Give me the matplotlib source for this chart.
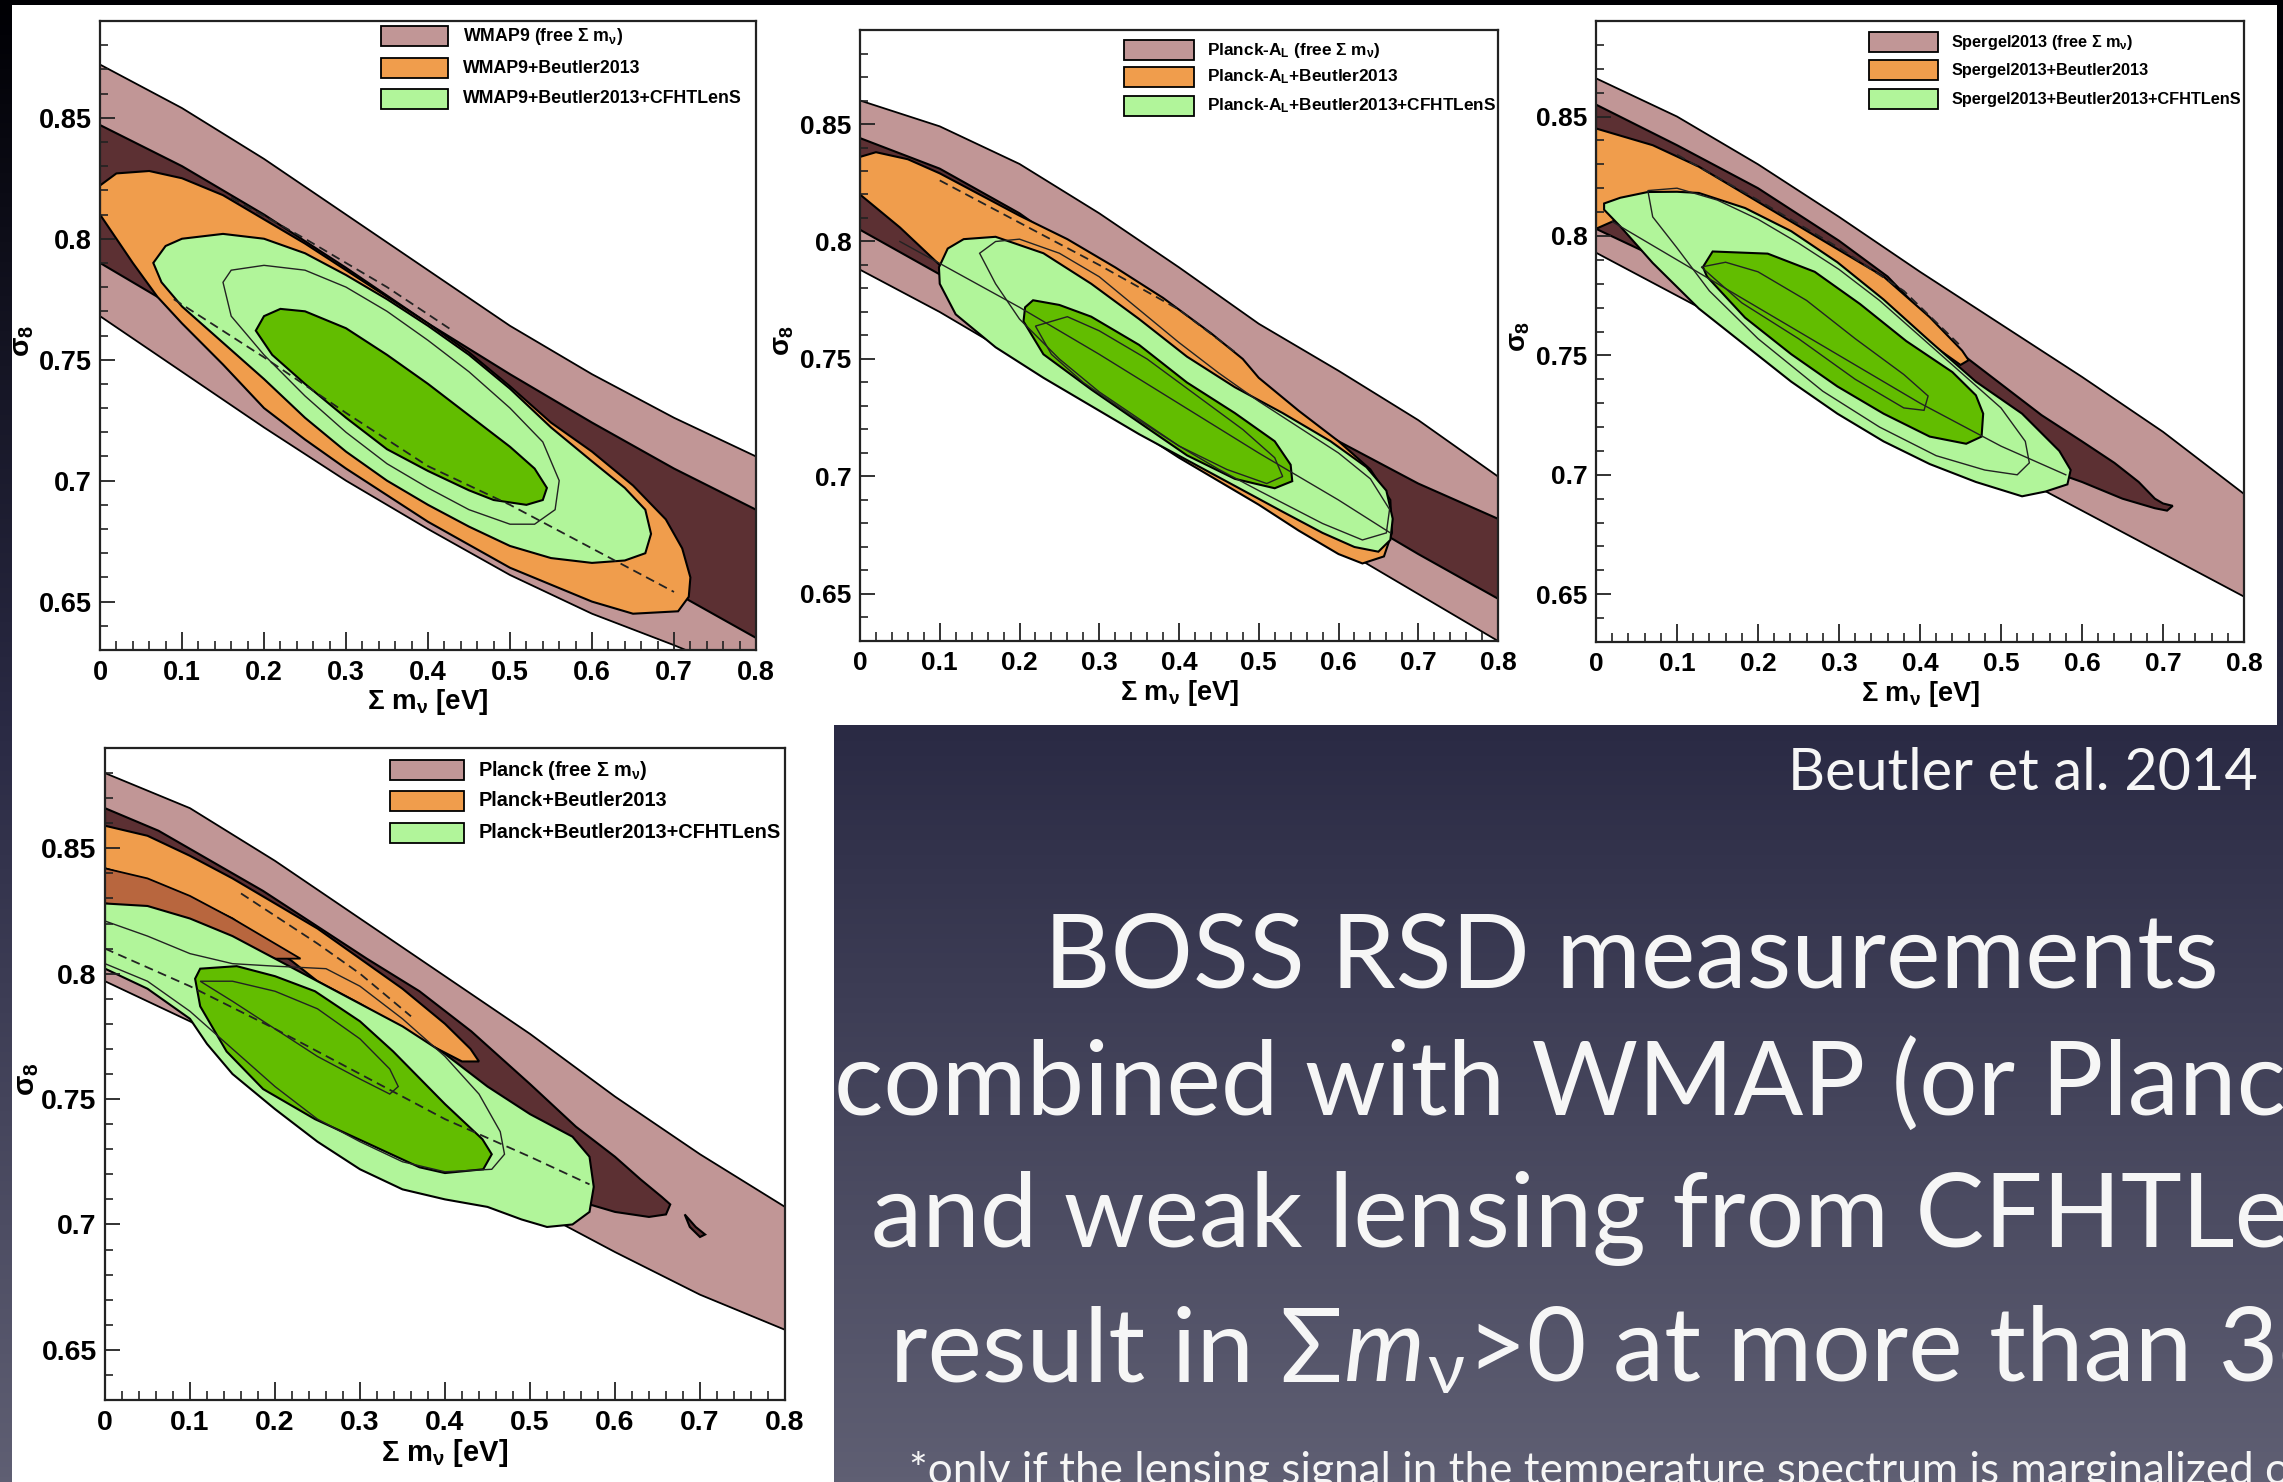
import numpy as np
import matplotlib
matplotlib.use('Agg')
import matplotlib.pyplot as plt
from matplotlib.patches import Rectangle
from matplotlib.ticker import MultipleLocator

plt.rcParams['font.family'] = 'Liberation Sans'
plt.rcParams['font.weight'] = 'bold'
plt.rcParams['axes.labelweight'] = 'bold'
plt.rcParams['mathtext.fontset'] = 'custom'
plt.rcParams['mathtext.rm'] = 'Liberation Sans:bold'
plt.rcParams['mathtext.it'] = 'Liberation Sans:bold'
plt.rcParams['mathtext.bf'] = 'Liberation Sans:bold'

# axes values
X_TICKS = [0, 0.1, 0.2, 0.3, 0.4, 0.5, 0.6, 0.7, 0.8]
X_TICK_LABELS = ['0', '0.1', '0.2', '0.3', '0.4', '0.5', '0.6', '0.7', '0.8']
Y_TICKS = [0.65, 0.7, 0.75, 0.8, 0.85]
Y_TICK_LABELS = ['0.65', '0.7', '0.75', '0.8', '0.85']
XLABEL = 'Σ m$_\\nu$ [eV]'
YLABEL = '$\\sigma_8$'
BAND_X = [0, 0.1, 0.2, 0.3, 0.4, 0.5, 0.6, 0.7, 0.8]

# ---- WMAP9 panel ----
WMAP_LEGEND = ['WMAP9 (free Σ m$_\\nu$)', 'WMAP9+Beutler2013', 'WMAP9+Beutler2013+CFHTLenS']
WMAP_PINK_HI = [0.872, 0.854, 0.833, 0.810, 0.787, 0.764, 0.744, 0.726, 0.710]
WMAP_PINK_LO = [0.768, 0.745, 0.722, 0.700, 0.680, 0.661, 0.645, 0.632, 0.618]
WMAP_DARK_HI = [0.847, 0.830, 0.810, 0.788, 0.765, 0.744, 0.724, 0.705, 0.688]
WMAP_DARK_LO = [0.790, 0.770, 0.751, 0.731, 0.712, 0.692, 0.672, 0.654, 0.635]
WMAP_ORANGE = [(0, 0.822), (0.02, 0.827), (0.06, 0.828), (0.1, 0.825), (0.15, 0.818), (0.2, 0.808),
               (0.25, 0.798), (0.3, 0.787), (0.35, 0.776), (0.4, 0.765), (0.45, 0.753), (0.5, 0.739),
               (0.55, 0.724), (0.6, 0.712), (0.65, 0.698), (0.69, 0.684), (0.71, 0.672), (0.72, 0.660),
               (0.718, 0.652), (0.705, 0.646), (0.65, 0.645), (0.6, 0.650), (0.5, 0.664), (0.4, 0.683),
               (0.3, 0.705), (0.25, 0.717), (0.2, 0.730), (0.15, 0.748), (0.1, 0.765), (0.07, 0.776),
               (0.04, 0.790), (0.02, 0.800), (0, 0.810)]
WMAP_LGREEN = [(0.065, 0.790), (0.08, 0.797), (0.1, 0.800), (0.15, 0.802), (0.2, 0.800), (0.25, 0.794),
               (0.3, 0.785), (0.35, 0.775), (0.4, 0.764), (0.45, 0.752), (0.5, 0.738), (0.55, 0.722),
               (0.6, 0.708), (0.64, 0.697), (0.665, 0.688), (0.672, 0.678), (0.665, 0.670), (0.64, 0.667),
               (0.6, 0.666), (0.55, 0.668), (0.5, 0.673), (0.45, 0.681), (0.4, 0.690), (0.35, 0.700),
               (0.3, 0.712), (0.25, 0.726), (0.2, 0.742), (0.15, 0.757), (0.1, 0.772), (0.075, 0.782)]
WMAP_DGREEN = [(0.19, 0.762), (0.2, 0.768), (0.22, 0.771), (0.25, 0.770), (0.3, 0.763), (0.35, 0.752),
               (0.4, 0.740), (0.45, 0.727), (0.5, 0.714), (0.53, 0.705), (0.545, 0.697), (0.54, 0.692),
               (0.52, 0.690), (0.48, 0.692), (0.45, 0.696), (0.4, 0.704), (0.35, 0.713), (0.3, 0.726),
               (0.25, 0.740), (0.21, 0.752)]
WMAP_THIN = [[(0.15, 0.782), (0.16, 0.787), (0.2, 0.789), (0.25, 0.787), (0.3, 0.780), (0.35, 0.770),
              (0.4, 0.758), (0.45, 0.745), (0.5, 0.730), (0.54, 0.716), (0.56, 0.700), (0.555, 0.688),
              (0.53, 0.682), (0.5, 0.682), (0.45, 0.688), (0.4, 0.697), (0.35, 0.707), (0.3, 0.720),
              (0.25, 0.735), (0.2, 0.752), (0.16, 0.768)]]
WMAP_DASHED = [[(0.16, 0.817), (0.25, 0.800), (0.35, 0.780), (0.43, 0.762)],
               [(0.09, 0.775), (0.2, 0.751), (0.3, 0.728), (0.4, 0.706), (0.5, 0.690), (0.6, 0.672),
                (0.7, 0.654)]]

# ---- Planck-A_L panel ----
PAL_LEGEND = ['Planck-A$_L$ (free Σ m$_\\nu$)', 'Planck-A$_L$+Beutler2013',
              'Planck-A$_L$+Beutler2013+CFHTLenS']
PAL_PINK_HI = [0.860, 0.849, 0.833, 0.812, 0.789, 0.765, 0.745, 0.724, 0.700]
PAL_PINK_LO = [0.788, 0.770, 0.750, 0.730, 0.710, 0.690, 0.670, 0.650, 0.630]
PAL_DARK_HI = [0.844, 0.831, 0.812, 0.788, 0.760, 0.735, 0.715, 0.697, 0.682]
PAL_DARK_LO = [0.805, 0.786, 0.766, 0.746, 0.726, 0.706, 0.687, 0.667, 0.648]
PAL_ORANGE = [(0, 0.836), (0.02, 0.838), (0.06, 0.835), (0.1, 0.829), (0.15, 0.820), (0.2, 0.811),
              (0.26, 0.801), (0.32, 0.789), (0.38, 0.776), (0.44, 0.761), (0.48, 0.750), (0.5, 0.742),
              (0.55, 0.728), (0.6, 0.715), (0.64, 0.703), (0.665, 0.690), (0.667, 0.676), (0.657, 0.666),
              (0.63, 0.663), (0.6, 0.667), (0.55, 0.677), (0.5, 0.688), (0.4, 0.708), (0.3, 0.730),
              (0.2, 0.755), (0.1, 0.790), (0.05, 0.806), (0, 0.820)]
PAL_LGREEN = [(0.099, 0.789), (0.11, 0.797), (0.13, 0.801), (0.17, 0.802), (0.23, 0.795), (0.29, 0.782),
              (0.35, 0.767), (0.41, 0.751), (0.47, 0.738), (0.53, 0.727), (0.59, 0.715), (0.635, 0.704),
              (0.66, 0.694), (0.668, 0.682), (0.665, 0.673), (0.65, 0.668), (0.62, 0.670), (0.58, 0.676),
              (0.53, 0.685), (0.47, 0.696), (0.41, 0.707), (0.35, 0.718), (0.29, 0.730), (0.23, 0.742),
              (0.17, 0.755), (0.12, 0.769), (0.10, 0.782)]
PAL_DGREEN = [(0.205, 0.766), (0.207, 0.772), (0.217, 0.775), (0.25, 0.773), (0.29, 0.768), (0.35, 0.756),
              (0.41, 0.740), (0.47, 0.727), (0.52, 0.715), (0.54, 0.705), (0.542, 0.698), (0.52, 0.695),
              (0.47, 0.699), (0.41, 0.709), (0.35, 0.723), (0.29, 0.737), (0.23, 0.752)]
PAL_THIN = [[(0.15, 0.795), (0.17, 0.800), (0.2, 0.801), (0.25, 0.795), (0.3, 0.785), (0.35, 0.771),
             (0.4, 0.757), (0.45, 0.744), (0.5, 0.732), (0.55, 0.721), (0.6, 0.710), (0.64, 0.699),
             (0.664, 0.686), (0.66, 0.676), (0.63, 0.673), (0.58, 0.680), (0.5, 0.694), (0.45, 0.703),
             (0.4, 0.713), (0.3, 0.736), (0.25, 0.750), (0.2, 0.767), (0.17, 0.782)],
            [(0.22, 0.764), (0.26, 0.768), (0.3, 0.762), (0.36, 0.750), (0.42, 0.735), (0.48, 0.720),
             (0.52, 0.708), (0.53, 0.700), (0.51, 0.697), (0.46, 0.703), (0.4, 0.713), (0.34, 0.726),
             (0.28, 0.740), (0.24, 0.752)]]
PAL_LINES = [[(0.05, 0.800), (0.2, 0.772), (0.3, 0.752), (0.4, 0.731), (0.5, 0.710), (0.6, 0.690),
              (0.665, 0.676)]]
PAL_DASHED = [[(0.1, 0.826), (0.2, 0.808), (0.3, 0.790), (0.4, 0.771), (0.47, 0.753)]]

# ---- Spergel2013 panel ----
SPG_LEGEND = ['Spergel2013 (free Σ m$_\\nu$)', 'Spergel2013+Beutler2013',
              'Spergel2013+Beutler2013+CFHTLenS']
SPG_PINK_HI = [0.866, 0.850, 0.830, 0.808, 0.785, 0.763, 0.741, 0.718, 0.692]
SPG_PINK_LO = [0.793, 0.775, 0.757, 0.739, 0.721, 0.703, 0.685, 0.667, 0.649]
SPG_DARK = [(0, 0.855), (0.1, 0.838), (0.2, 0.820), (0.3, 0.798), (0.36, 0.783), (0.42, 0.762),
            (0.45, 0.751), (0.5, 0.738), (0.55, 0.725), (0.6, 0.714), (0.64, 0.705), (0.67, 0.697),
            (0.69, 0.690), (0.70, 0.688), (0.712, 0.687), (0.705, 0.685), (0.69, 0.686), (0.65, 0.690),
            (0.6, 0.697), (0.55, 0.703), (0.5, 0.711), (0.4, 0.728), (0.3, 0.748), (0.2, 0.768),
            (0.1, 0.787), (0, 0.803)]
SPG_ORANGE = [(0, 0.845), (0.07, 0.838), (0.127, 0.829), (0.184, 0.8175), (0.241, 0.806), (0.298, 0.7945),
              (0.355, 0.783), (0.412, 0.766), (0.452, 0.752), (0.46, 0.748), (0.45, 0.746), (0.4, 0.758),
              (0.35, 0.770), (0.3, 0.783), (0.25, 0.795), (0.2, 0.805), (0.14, 0.813), (0.09, 0.817),
              (0.05, 0.812), (0.02, 0.806), (0, 0.803)]
SPG_LGREEN = [(0.01, 0.8136), (0.03, 0.816), (0.064, 0.8184), (0.1, 0.8185), (0.127, 0.818), (0.184, 0.8117),
              (0.241, 0.802), (0.298, 0.789), (0.355, 0.7734), (0.412, 0.756), (0.469, 0.739),
              (0.526, 0.7256), (0.572, 0.710), (0.586, 0.702), (0.582, 0.696), (0.555, 0.693),
              (0.526, 0.691), (0.469, 0.697), (0.412, 0.7045), (0.355, 0.714), (0.298, 0.7256),
              (0.241, 0.739), (0.184, 0.7543), (0.127, 0.7696), (0.07, 0.7887), (0.03, 0.804), (0.01, 0.811)]
SPG_DGREEN = [(0.132, 0.787), (0.144, 0.7935), (0.212, 0.7926), (0.27, 0.785), (0.326, 0.7715),
              (0.383, 0.756), (0.44, 0.743), (0.469, 0.7333), (0.478, 0.7256), (0.476, 0.716),
              (0.457, 0.713), (0.412, 0.716), (0.355, 0.7256), (0.298, 0.737), (0.241, 0.7505),
              (0.184, 0.7658), (0.137, 0.783)]
SPG_THIN = [[(0.064, 0.819), (0.1, 0.820), (0.15, 0.815), (0.2, 0.807), (0.25, 0.797), (0.3, 0.786),
             (0.35, 0.773), (0.4, 0.758), (0.45, 0.743), (0.5, 0.728), (0.53, 0.714), (0.535, 0.705),
             (0.52, 0.700), (0.48, 0.702), (0.42, 0.708), (0.35, 0.720), (0.28, 0.735), (0.2, 0.757),
             (0.14, 0.777), (0.1, 0.795), (0.07, 0.808)],
            [(0.13, 0.787), (0.16, 0.789), (0.2, 0.785), (0.26, 0.773), (0.32, 0.757), (0.38, 0.742),
             (0.41, 0.733), (0.405, 0.727), (0.38, 0.728), (0.32, 0.740), (0.25, 0.757), (0.18, 0.772)]]
SPG_LINES = [[(0.02, 0.806), (0.1, 0.790), (0.2, 0.770), (0.3, 0.750), (0.4, 0.730), (0.5, 0.712),
              (0.58, 0.700)]]
SPG_DASHED = [[(0.1, 0.834), (0.2, 0.815), (0.3, 0.795), (0.38, 0.777), (0.45, 0.754)]]

# ---- Planck panel ----
PLK_LEGEND = ['Planck (free Σ m$_\\nu$)', 'Planck+Beutler2013', 'Planck+Beutler2013+CFHTLenS']
PLK_PINK_HI = [0.880, 0.866, 0.845, 0.822, 0.799, 0.776, 0.751, 0.728, 0.707]
PLK_PINK_LO = [0.797, 0.781, 0.763, 0.745, 0.726, 0.707, 0.689, 0.672, 0.658]
PLK_DARK = [(0, 0.866), (0.063, 0.857), (0.186, 0.833), (0.308, 0.806), (0.37, 0.793), (0.431, 0.777),
            (0.5, 0.756), (0.554, 0.739), (0.6, 0.727), (0.63, 0.718), (0.655, 0.711), (0.665, 0.708),
            (0.66, 0.704), (0.64, 0.703), (0.6, 0.705), (0.55, 0.710), (0.5, 0.716), (0.45, 0.724),
            (0.4, 0.733), (0.3, 0.752), (0.2, 0.770), (0.1, 0.788), (0, 0.805)]
PLK_DARK_BLOB = [(0.682, 0.704), (0.695, 0.699), (0.706, 0.696), (0.700, 0.695), (0.688, 0.699)]
PLK_ORANGE = [(0, 0.859), (0.05, 0.855), (0.1, 0.847), (0.15, 0.838), (0.2, 0.828), (0.25, 0.818),
              (0.3, 0.806), (0.35, 0.794), (0.4, 0.780), (0.43, 0.770), (0.44, 0.765), (0.42, 0.765),
              (0.38, 0.772), (0.3, 0.788), (0.25, 0.797), (0.22, 0.805), (0.15, 0.822), (0.1, 0.830),
              (0.05, 0.837), (0, 0.842)]
PLK_SIENNA = [(0, 0.842), (0.05, 0.838), (0.1, 0.831), (0.15, 0.822), (0.2, 0.812), (0.23, 0.806),
              (0.2, 0.806), (0.15, 0.814), (0.1, 0.821), (0.05, 0.826), (0, 0.828)]
PLK_LGREEN = [(0, 0.828), (0.05, 0.827), (0.1, 0.822), (0.15, 0.815), (0.2, 0.806), (0.25, 0.797),
              (0.3, 0.788), (0.35, 0.779), (0.4, 0.768), (0.45, 0.755), (0.5, 0.744), (0.55, 0.735),
              (0.57, 0.727), (0.575, 0.715), (0.57, 0.705), (0.55, 0.700), (0.52, 0.699), (0.49, 0.702),
              (0.45, 0.707), (0.4, 0.710), (0.35, 0.714), (0.3, 0.722), (0.25, 0.733), (0.2, 0.746),
              (0.15, 0.760), (0.12, 0.772), (0.1, 0.782), (0.05, 0.794), (0, 0.802)]
PLK_DGREEN = [(0.106, 0.798), (0.112, 0.802), (0.155, 0.803), (0.2, 0.799), (0.247, 0.793), (0.3, 0.781),
              (0.339, 0.769), (0.4, 0.748), (0.444, 0.734), (0.455, 0.728), (0.445, 0.722), (0.4, 0.7205),
              (0.37, 0.7228), (0.308, 0.7325), (0.247, 0.742), (0.186, 0.754), (0.143, 0.769),
              (0.112, 0.787)]
PLK_THIN = [[(0, 0.821), (0.05, 0.815), (0.1, 0.808), (0.15, 0.804), (0.2, 0.803), (0.26, 0.802),
             (0.3, 0.795), (0.35, 0.782), (0.4, 0.767), (0.44, 0.752), (0.465, 0.737), (0.47, 0.728),
             (0.455, 0.722), (0.4, 0.721), (0.35, 0.725), (0.3, 0.733), (0.25, 0.742), (0.2, 0.755),
             (0.15, 0.770), (0.1, 0.785), (0.05, 0.797), (0, 0.804)],
            [(0.112, 0.797), (0.15, 0.797), (0.2, 0.793), (0.25, 0.786), (0.3, 0.774), (0.335, 0.762),
             (0.345, 0.755), (0.335, 0.752), (0.3, 0.758), (0.25, 0.767), (0.2, 0.778), (0.15, 0.789)]]
PLK_DASHED = [[(0, 0.810), (0.1, 0.795), (0.2, 0.778), (0.3, 0.760), (0.4, 0.742), (0.5, 0.727),
               (0.57, 0.716)],
              [(0.16, 0.832), (0.25, 0.812), (0.3, 0.800), (0.36, 0.783)]]

# slide text
SLIDE_CREDIT = 'Beutler et al. 2014'
SLIDE_LINES = ['BOSS RSD measurements', 'combined with WMAP (or Planck*)', 'and weak lensing from CFHTLenS']
SLIDE_LAST = ['result in Σ', 'm', 'ν', '>0 at more than 3σ']
SLIDE_NOTE = '*only if the lensing signal in the temperature spectrum is marginalized over'

PINK, DARK, ORANGE = '#c19696', '#5c3033', '#f09d4c'
SIENNA, LGREEN, DGREEN = '#b8663e', '#b1f59a', '#62bd00'

W, H = 2283, 1482
fig = plt.figure(figsize=(W / 100, H / 100), dpi=100)

# slide background
bg = fig.add_axes([0, 0, 1, 1], zorder=0)
bg.set_xlim(0, W)
bg.set_ylim(H, 0)
bg.axis('off')
t = np.linspace(0, 1, 300)
stops = [0, 0.49, 1]
grad = np.stack([np.interp(t, stops, [0, 42, 95]), np.interp(t, stops, [0, 42, 95]),
                 np.interp(t, stops, [4, 68, 115])], axis=1) / 255
bg.imshow(np.repeat(grad[:, None, :], 2, axis=1), extent=(0, W, H, 0), aspect='auto')
bg.add_patch(Rectangle((12, 5), 2265, 720, fc='white', ec='none'))
bg.add_patch(Rectangle((12, 725), 822, 760, fc='white', ec='none'))


def poly(ax, pts, **kw):
    xs, ys = zip(*pts)
    ax.fill(xs, ys, **kw)


def draw_panel(rect, p):
    ax = fig.add_axes([rect[0] / W, 1 - rect[3] / H, (rect[2] - rect[0]) / W, (rect[3] - rect[1]) / H],
                      zorder=2)
    axw, axh = rect[2] - rect[0], rect[3] - rect[1]
    ax.fill_between(BAND_X, p['pink'][1], p['pink'][0], color=PINK, lw=0, zorder=1)
    for edge in p['pink']:
        ax.plot(BAND_X, edge, color='k', lw=1.3, zorder=1.1)
    if 'dark_band' in p:
        ax.fill_between(BAND_X, p['dark_band'][1], p['dark_band'][0], color=DARK, lw=0, zorder=1.2)
        for edge in p['dark_band']:
            ax.plot(BAND_X, edge, color='k', lw=1.5, zorder=1.3)
    for pts in p.get('dark', []):
        poly(ax, pts, fc=DARK, ec='k', lw=1.5, zorder=1.3)
    poly(ax, p['orange'], fc=ORANGE, ec='k', lw=1.5, zorder=1.4)
    if 'sienna' in p:
        poly(ax, p['sienna'], fc=SIENNA, ec='k', lw=1.3, zorder=1.45)
    poly(ax, p['lgreen'], fc=LGREEN, ec='k', lw=1.5, zorder=1.5)
    poly(ax, p['dgreen'], fc=DGREEN, ec='k', lw=1.5, zorder=1.6)
    for pts in p['thin']:
        poly(ax, pts, fill=False, ec='#222222', lw=1.0, zorder=1.7)
    for pts in p.get('lines', []):
        xs, ys = zip(*pts)
        ax.plot(xs, ys, color='#222222', lw=1.0, zorder=1.7)
    for pts in p['dashed']:
        xs, ys = zip(*pts)
        ax.plot(xs, ys, color='#222222', lw=1.3, ls=(0, (5, 3)), zorder=1.8)

    ax.set_xlim(0, 0.8)
    ax.set_ylim(0.63, 0.89)
    ax.set_axisbelow(False)
    ax.set_xticks(X_TICKS, X_TICK_LABELS)
    ax.set_yticks(Y_TICKS, Y_TICK_LABELS)
    ax.xaxis.set_minor_locator(MultipleLocator(0.02))
    ax.yaxis.set_minor_locator(MultipleLocator(0.01))
    fs = p['fs']
    ax.tick_params(axis='x', which='major', direction='in', length=13, width=1.3, pad=7,
                   labelsize=fs, color='#222222')
    ax.tick_params(axis='x', which='minor', direction='in', length=6.5, width=1.2, color='#222222')
    ax.tick_params(axis='y', which='major', direction='in', length=11, width=1.3, pad=6,
                   labelsize=fs, color='#222222')
    ax.tick_params(axis='y', which='minor', direction='in', length=6, width=1.2, color='#222222')
    for s in ax.spines.values():
        s.set_linewidth(1.6)
        s.set_color('#222222')
        s.set_zorder(3)
    ax.set_xlabel(XLABEL, fontsize=fs + 0.5, fontweight='bold')
    ax.xaxis.set_label_coords(0.5, -37 / axh)
    ax.set_ylabel(YLABEL, fontsize=fs + 1, fontweight='bold')
    ax.yaxis.set_label_coords(-64 / axw, 0.492)

    bx0, bx1, tx, rows, lfs = p['legend_pos']
    bh = 20 / axh
    for label, color, y in zip(p['legend'], [PINK, ORANGE, LGREEN], rows):
        ax.add_patch(Rectangle((bx0, y - bh / 2), bx1 - bx0, bh, transform=ax.transAxes,
                               fc=color, ec='k', lw=1.3, clip_on=False, zorder=4))
        ax.text(tx, y, label, transform=ax.transAxes, fontsize=lfs, va='center', ha='left', zorder=4)
    return ax


panels = [
    ((100, 21, 756, 650), dict(pink=(WMAP_PINK_HI, WMAP_PINK_LO), dark_band=(WMAP_DARK_HI, WMAP_DARK_LO),
                               orange=WMAP_ORANGE, lgreen=WMAP_LGREEN, dgreen=WMAP_DGREEN, thin=WMAP_THIN,
                               dashed=WMAP_DASHED, legend=WMAP_LEGEND, fs=19.5,
                               legend_pos=(0.428, 0.530, 0.553, [0.976, 0.925, 0.876], 12.8))),
    ((860, 30, 1498, 641), dict(pink=(PAL_PINK_HI, PAL_PINK_LO), dark_band=(PAL_DARK_HI, PAL_DARK_LO),
                                orange=PAL_ORANGE, lgreen=PAL_LGREEN, dgreen=PAL_DGREEN, thin=PAL_THIN,
                                lines=PAL_LINES, dashed=PAL_DASHED, legend=PAL_LEGEND, fs=19,
                                legend_pos=(0.414, 0.524, 0.544, [0.967, 0.923, 0.876], 12.4))),
    ((1596, 21, 2244, 642), dict(pink=(SPG_PINK_HI, SPG_PINK_LO), dark=[SPG_DARK], orange=SPG_ORANGE,
                                 lgreen=SPG_LGREEN, dgreen=SPG_DGREEN, thin=SPG_THIN, lines=SPG_LINES,
                                 dashed=SPG_DASHED, legend=SPG_LEGEND, fs=19,
                                 legend_pos=(0.421, 0.528, 0.548, [0.966, 0.921, 0.874], 11.7))),
    ((105, 748, 785, 1400), dict(pink=(PLK_PINK_HI, PLK_PINK_LO), dark=[PLK_DARK, PLK_DARK_BLOB],
                                 orange=PLK_ORANGE, sienna=PLK_SIENNA, lgreen=PLK_LGREEN, dgreen=PLK_DGREEN,
                                 thin=PLK_THIN, dashed=PLK_DASHED, legend=PLK_LEGEND, fs=20.5,
                                 legend_pos=(0.419, 0.528, 0.549, [0.966, 0.919, 0.870], 14.3))),
]
for rect, p in panels:
    draw_panel(rect, p)

# slide text, sized to the measured widths (it runs off the right edge, as on the slide)
SLIDE_FONT = ['Lato', 'DejaVu Sans']
ren = fig.canvas.get_renderer()
txt = dict(family=SLIDE_FONT, fontweight='normal', color='#f6f6f6')


def width_at(s, size, **kw):
    tt = bg.text(0, 0, s, fontsize=size, **txt, **kw)
    w = tt.get_window_extent(ren).width
    tt.remove()
    return w


big = 60 * 1175 / width_at(SLIDE_LINES[0], 60)
credit = 40 * 470 / width_at(SLIDE_CREDIT, 40)
note = 20 * 1350 / width_at('*only if the lensing signal in the temperature spectrum is marginalized', 20)

bg.text(2258, 790, SLIDE_CREDIT, fontsize=credit, ha='right', va='baseline', **txt)
for s, x, y in zip(SLIDE_LINES, [1044, 834, 871], [987, 1115, 1247]):
    bg.text(x, y, s, fontsize=big, ha='left', va='baseline', **txt)
t1 = bg.text(890, 1381, SLIDE_LAST[0], fontsize=big, ha='left', va='baseline', **txt)
t2 = bg.annotate(SLIDE_LAST[1], xy=(1, 0), xycoords=t1, xytext=(1, 0), textcoords='offset points',
                 fontsize=big, style='italic', ha='left', va='bottom', **txt)
t3 = bg.annotate(SLIDE_LAST[2], xy=(1, 0), xycoords=t2, xytext=(1, -4), textcoords='offset points',
                 fontsize=big * 0.7, ha='left', va='bottom', **txt)
bg.annotate(SLIDE_LAST[3], xy=(1, 0), xycoords=(t3, t2), xytext=(2, 0), textcoords='offset points',
            fontsize=big, ha='left', va='bottom', **txt)
bg.text(909, 1484, SLIDE_NOTE, fontsize=note, ha='left', va='baseline', **txt)

fig.savefig('out.png', dpi=100)
